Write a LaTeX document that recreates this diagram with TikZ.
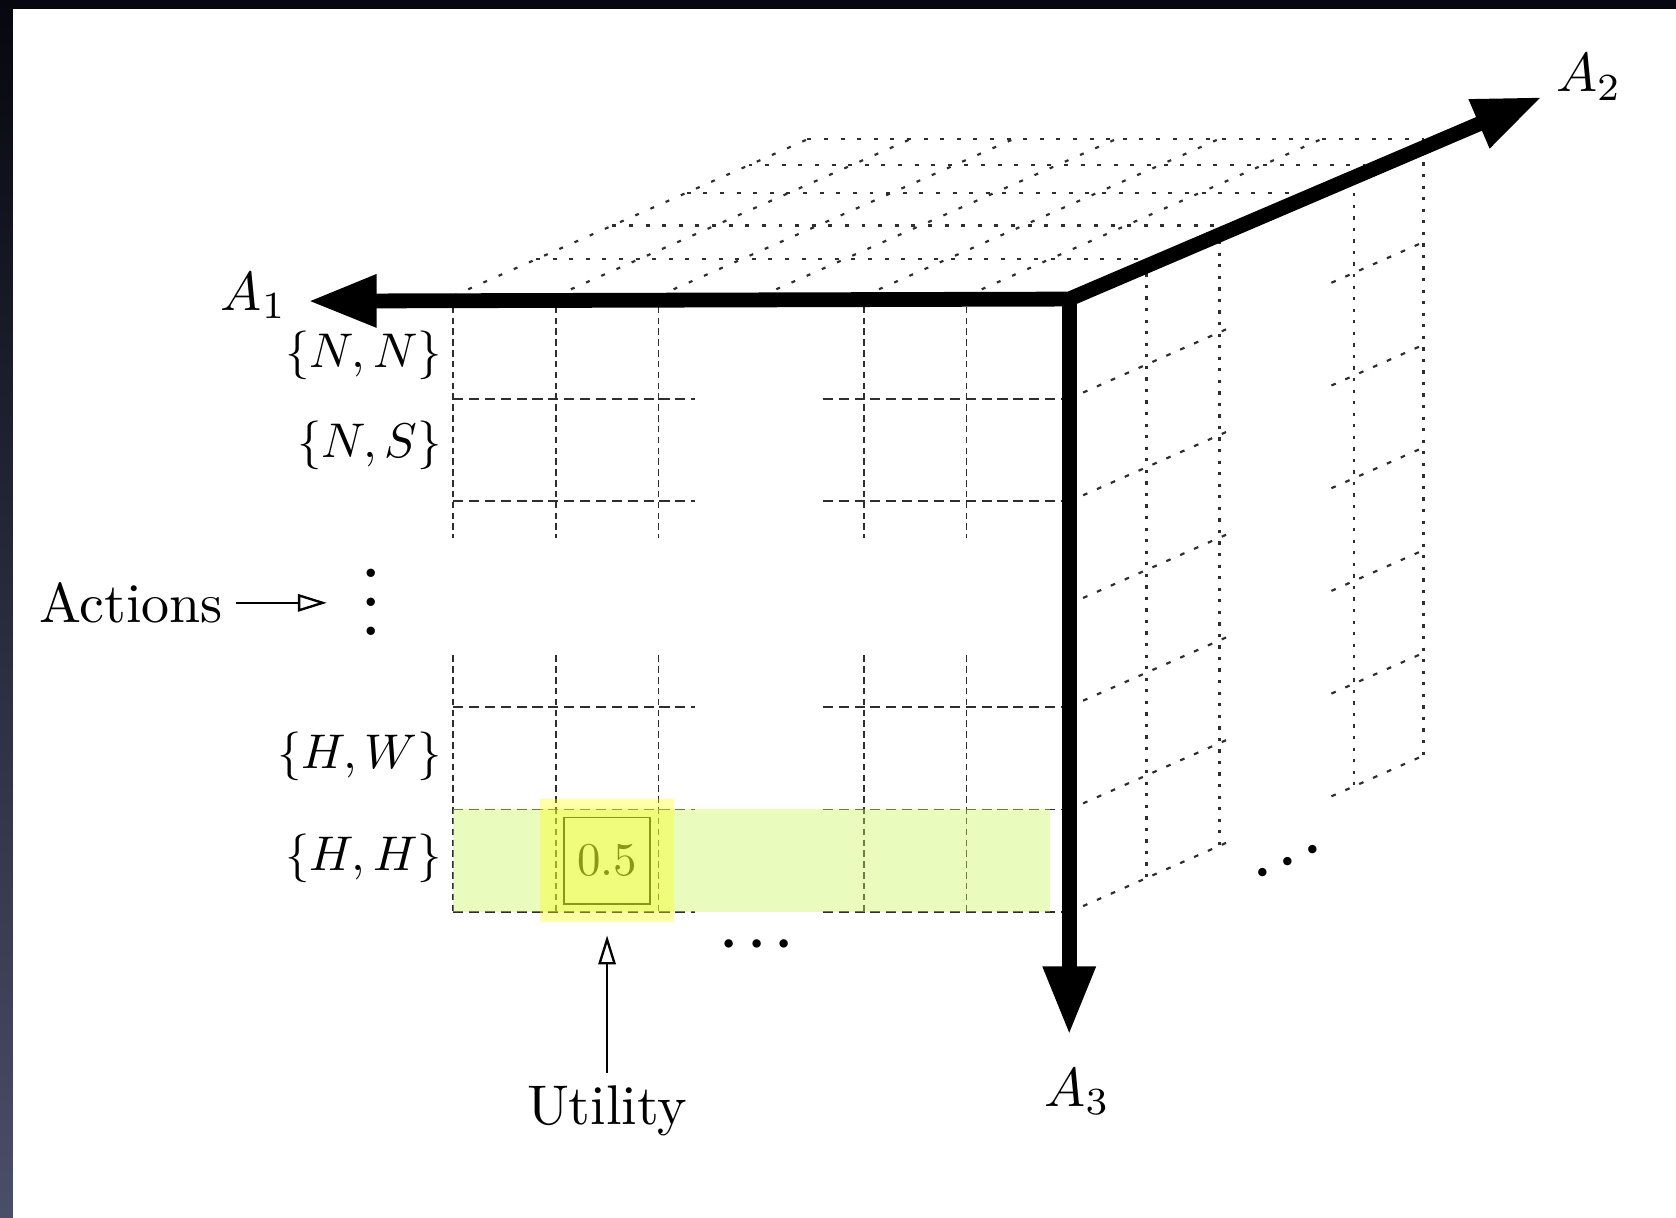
\documentclass[tikz,border=0pt]{standalone}
\usepackage{tikz}
\usetikzlibrary{arrows.meta}
\definecolor{Frame}{HTML}{06070F}
\definecolor{FrameSide}{HTML}{4A4F68}
\definecolor{GridInk}{HTML}{2E2E2E}
\definecolor{RowGreen}{RGB}{200,245,90}
\definecolor{CellYellow}{RGB}{255,255,0}
\newcommand{\txtL}[1]{\scalebox{1.55}{#1}}
\newcommand{\mathL}[1]{\scalebox{1.35}{$#1$}}
\newcommand{\axisL}[1]{\scalebox{1.52}{$#1$}}
\tikzset{
  gridFront/.style={draw=GridInk,line width=0.5pt,dash pattern=on 2.8pt off 1.6pt},
  gridFrontV/.style={gridFront,dash pattern=on 1.8pt off 1.2pt},
  gridTop/.style={draw=GridInk,line width=0.6pt,dash pattern=on 1.1pt off 3.5pt},
  gridSide/.style={draw=GridInk,line width=0.6pt,dash pattern=on 0.9pt off 2.3pt},
  gridSideD/.style={draw=GridInk,line width=0.6pt,dash pattern=on 1.3pt off 2.9pt},
  axis/.style={line width=4.1pt,draw=black,line join=miter,>={Triangle[length=19pt,width=13.6pt]}},
  openArrow/.style={-{Triangle[open,length=8pt,width=4.8pt]},line width=0.65pt},
  lbl/.style={font=\normalsize,text=black}
}

\begin{document}
\begin{tikzpicture}[x=1cm,y=1cm]
\useasboundingbox (-4.411,-8.97) rectangle (11.908,2.882);
\fill[white] (-4.411,-8.97) rectangle (11.908,2.882);
% window frame
\shade[top color=Frame,bottom color=FrameSide] (-4.411,-8.97) rectangle (-4.285,2.882);
\fill[Frame] (-4.411,2.795) rectangle (11.908,2.882);

\def\dx{0.69}
\def\dy{0.305}

% top face
\foreach \i in {0,...,5} \draw[gridTop] (\i,0) -- ++(5*\dx,5*\dy);
\foreach \k in {1.17,2.25,3.3,4.17,5} \draw[gridTop] (\k*\dx,\k*\dy) -- ++(6,0);

% side face
\foreach \k in {1.09,2.12,4.02,5} \draw[gridSide] ({6+\k*\dx},\k*\dy) -- ++(0,-6);
\foreach \r in {1,...,6} {
  \draw[gridSideD] (6,-\r) -- ++(2.32*\dx,2.32*\dy);
  \draw[gridSideD] ({6+3.7*\dx},{-\r+3.7*\dy}) -- ({6+5*\dx},{-\r+5*\dy});
}

% front face
\foreach \c in {0,1,2,4,5,6} {
  \draw[gridFrontV] (\c,0) -- (\c,-2.36);
  \draw[gridFrontV] (\c,-3.5) -- (\c,-6);
}
\foreach \r in {1,2,4,5,6} {
  \draw[gridFront] (0,-\r) -- (2.36,-\r);
  \draw[gridFront] (3.6,-\r) -- (6,-\r);
}

% utility cell
\node[draw=black,line width=0.4pt,minimum size=0.84cm,inner sep=0pt] (val) at (1.5,-5.5) {\scalebox{1.3}{0.5}};
\fill[RowGreen,opacity=0.4] (0,-5) rectangle (5.81,-6);
\node[fill=CellYellow,opacity=0.34,minimum width=1.305cm,minimum height=1.2cm,inner sep=0pt] (hlcell) at (1.5,-5.5) {};

% row labels
\node[lbl,anchor=base east,inner sep=0pt] (rowNN) at (-0.1,-0.70) {\mathL{\{N,N\}}};
\node[lbl,anchor=base east,inner sep=0pt] (rowNS) at (-0.1,-1.57) {\mathL{\{N,S\}}};
\node[lbl,anchor=base east,inner sep=0pt] (rowHW) at (-0.1,-4.60) {\mathL{\{H,W\}}};
\node[lbl,anchor=base east,inner sep=0pt] (rowHH) at (-0.1,-5.59) {\mathL{\{H,H\}}};

\node[lbl,anchor=base] (actions) at (-3.135,-3.18) {\txtL{Actions}};
\node[lbl] (actDots) at (-0.8,-2.77) {\scalebox{2}{\large$\vdots$}};
\draw[openArrow,shorten >=0.19cm] (actions.east) -- (actions.east -| actDots.west);

\node[lbl,anchor=base] (utility) at (1.5,-8.07) {\txtL{Utility}};
\draw[openArrow,shorten >=0.12cm] (utility) -- (hlcell.south);

\node[lbl] (moreCols) at (2.96,-6.32) {\scalebox{1.5}{\boldmath$\cdots$}};
\node[lbl,rotate=24] (moreDepth) at (8.13,-5.51) {\scalebox{1.5}{\boldmath$\cdots$}};

% axes
\coordinate (corner) at (6,-0.03);
\coordinate (a1tip) at (-1.412,-0.05);
\coordinate (a2tip) at (10.604,1.938);
\coordinate (a3tip) at (6,-7.196);
\draw[axis,<->] (a1tip) -- (corner) -- (a2tip);
\draw[axis,->] (corner) -- (a3tip);

\node[lbl] (labA1) at (-1.94,0.0) {\axisL{A_1}};
\node[lbl] (labA2) at (11.06,2.13) {\axisL{A_2}};
\node[lbl] (labA3) at (6.08,-7.75) {\axisL{A_3}};
\end{tikzpicture}
\end{document}
